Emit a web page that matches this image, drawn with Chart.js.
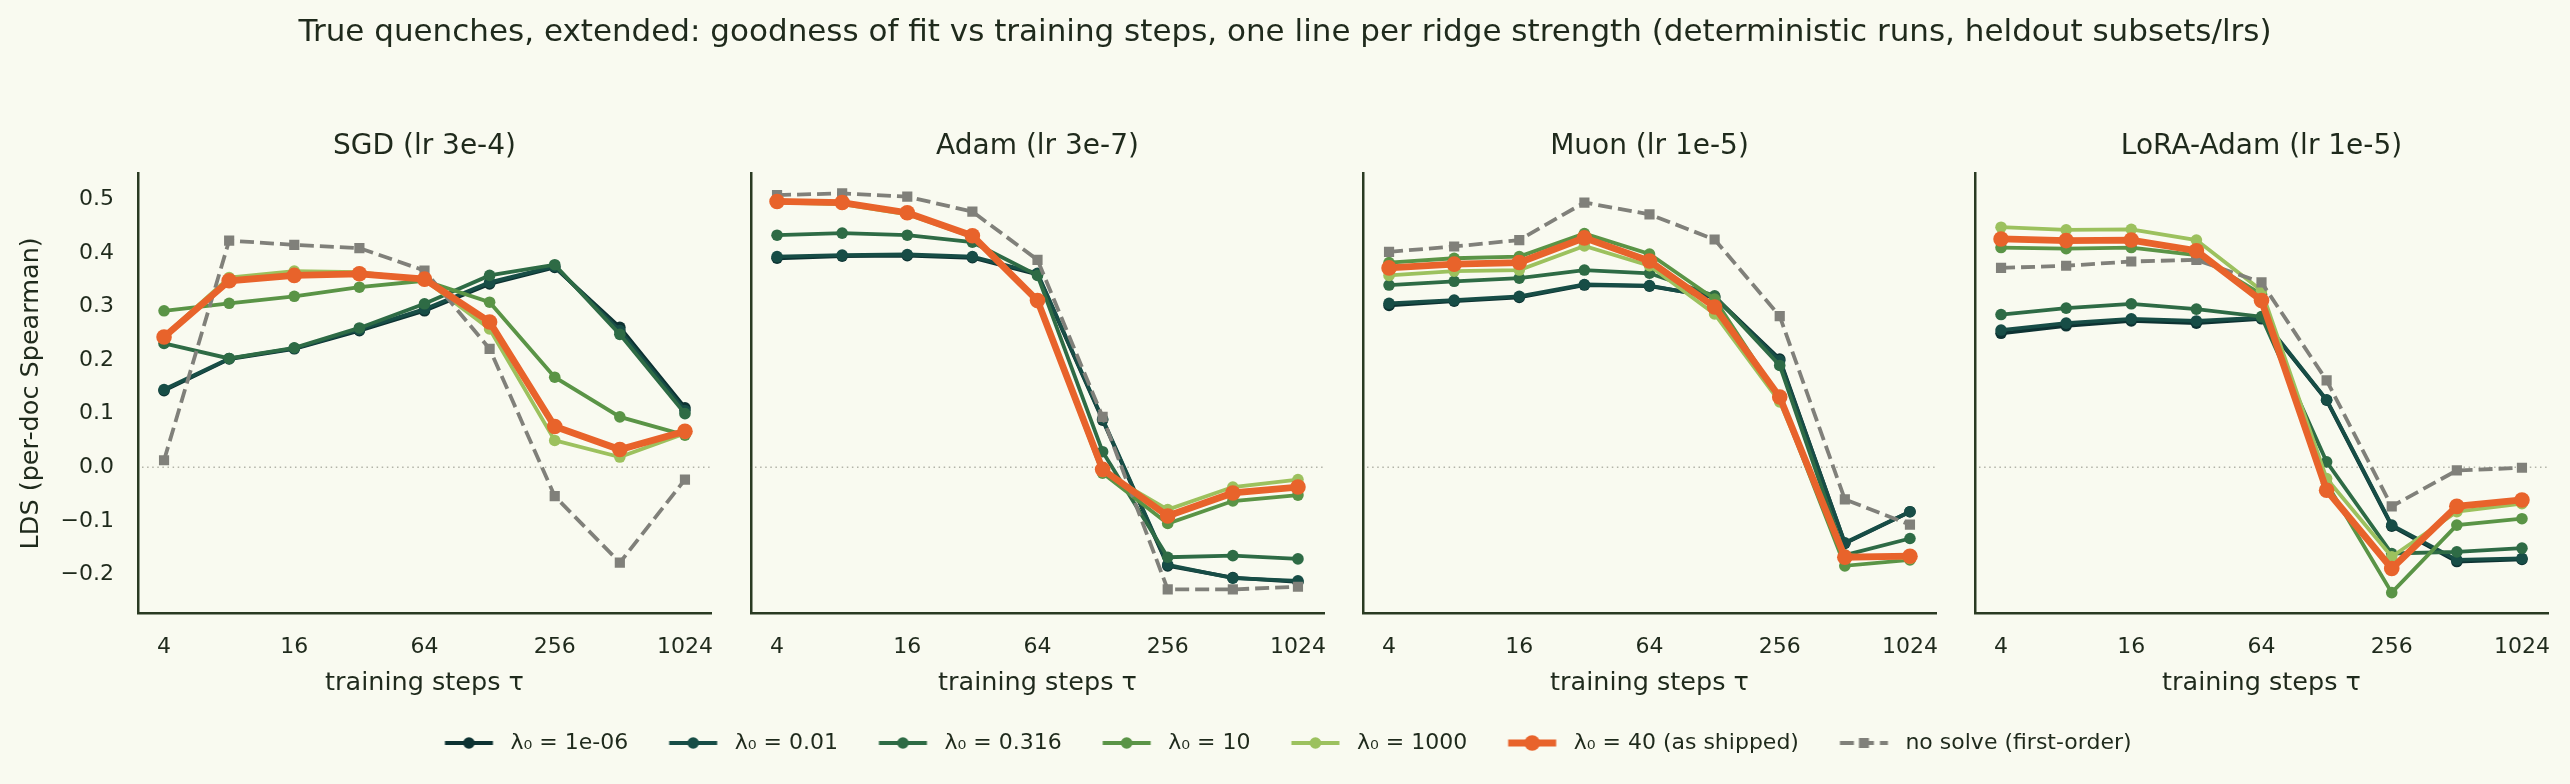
<!DOCTYPE html>
<html>
<head>
<meta charset="utf-8">
<script src="https://cdn.jsdelivr.net/npm/chart.js@4.4.1/dist/chart.umd.min.js"></script>
<style>
  html, body { margin: 0; padding: 0; background: #f9faf0; }
  #page { position: relative; width: 2570px; height: 784px; overflow: hidden; }
  canvas { position: absolute; }
</style>
</head>
<body>
<div id="page">
  <canvas id="frame" width="2570" height="784" style="left:0;top:0"></canvas>
  <canvas id="p0" width="751" height="603" style="left:0;top:100px"></canvas>
  <canvas id="p1" width="633" height="603" style="left:731px;top:100px"></canvas>
  <canvas id="p2" width="633" height="603" style="left:1343px;top:100px"></canvas>
  <canvas id="p3" width="633" height="603" style="left:1955px;top:100px"></canvas>
</div>
<script>
// training steps (x) and tick values
const steps = [4, 8, 16, 32, 64, 128, 256, 512, 1024];
const xTicks = [4, 16, 64, 256, 1024];
const yTicks = [-0.2, -0.1, 0, 0.1, 0.2, 0.3, 0.4, 0.5];

const seriesLabels = ['λ₀ = 1e-06', 'λ₀ = 0.01', 'λ₀ = 0.316', 'λ₀ = 10', 'λ₀ = 1000', 'λ₀ = 40 (as shipped)', 'no solve (first-order)'];
const panelTitles = ['SGD (lr 3e-4)', 'Adam (lr 3e-7)', 'Muon (lr 1e-5)', 'LoRA-Adam (lr 1e-5)'];
const suptitle = 'True quenches, extended: goodness of fit vs training steps, one line per ridge strength (deterministic runs, heldout subsets/lrs)';

// LDS per series, same order as seriesLabels
const sgdLDS = [
  [0.143, 0.202, 0.221, 0.255, 0.292, 0.342, 0.373, 0.261, 0.111],
  [0.145, 0.203, 0.222, 0.257, 0.295, 0.345, 0.375, 0.255, 0.106],
  [0.231, 0.203, 0.223, 0.260, 0.305, 0.358, 0.378, 0.248, 0.100],
  [0.292, 0.306, 0.319, 0.336, 0.348, 0.308, 0.168, 0.094, 0.060],
  [0.245, 0.354, 0.366, 0.364, 0.350, 0.258, 0.050, 0.019, 0.063],
  [0.243, 0.348, 0.358, 0.361, 0.351, 0.271, 0.076, 0.033, 0.067],
  [0.013, 0.423, 0.415, 0.409, 0.367, 0.221, -0.054, -0.178, -0.023]
];
const adamLDS = [
  [0.390, 0.394, 0.395, 0.391, 0.360, 0.088, -0.184, -0.206, -0.214],
  [0.393, 0.396, 0.397, 0.393, 0.362, 0.090, -0.182, -0.207, -0.212],
  [0.433, 0.437, 0.433, 0.420, 0.358, 0.029, -0.168, -0.165, -0.171],
  [0.495, 0.492, 0.474, 0.431, 0.311, -0.011, -0.105, -0.063, -0.052],
  [0.494, 0.491, 0.472, 0.430, 0.310, -0.008, -0.079, -0.037, -0.023],
  [0.496, 0.494, 0.475, 0.432, 0.311, -0.004, -0.091, -0.048, -0.037],
  [0.508, 0.511, 0.505, 0.477, 0.387, 0.094, -0.228, -0.228, -0.223]
];
const muonLDS = [
  [0.302, 0.310, 0.317, 0.340, 0.338, 0.318, 0.202, -0.142, -0.083],
  [0.306, 0.312, 0.319, 0.341, 0.339, 0.317, 0.199, -0.141, -0.083],
  [0.340, 0.347, 0.353, 0.368, 0.362, 0.320, 0.190, -0.164, -0.133],
  [0.382, 0.390, 0.393, 0.436, 0.398, 0.314, 0.128, -0.184, -0.173],
  [0.358, 0.366, 0.368, 0.413, 0.376, 0.286, 0.122, -0.164, -0.170],
  [0.372, 0.379, 0.382, 0.428, 0.385, 0.299, 0.131, -0.168, -0.166],
  [0.402, 0.412, 0.424, 0.494, 0.472, 0.425, 0.282, -0.060, -0.107]
];
const loraLDS = [
  [0.250, 0.264, 0.273, 0.269, 0.277, 0.125, -0.110, -0.176, -0.172],
  [0.256, 0.269, 0.277, 0.273, 0.279, 0.126, -0.108, -0.173, -0.170],
  [0.285, 0.297, 0.305, 0.295, 0.281, 0.010, -0.161, -0.158, -0.151],
  [0.410, 0.408, 0.410, 0.396, 0.323, -0.030, -0.234, -0.108, -0.096],
  [0.448, 0.443, 0.444, 0.424, 0.330, -0.021, -0.167, -0.083, -0.068],
  [0.426, 0.423, 0.424, 0.404, 0.311, -0.043, -0.189, -0.073, -0.061],
  [0.372, 0.376, 0.384, 0.387, 0.345, 0.162, -0.073, -0.006, -0.001]
];

// styling
const seriesColors = ['#0d3232', '#174d46', '#2e6b45', '#5a9446', '#9cc15e', '#e8632b', '#80807a'];
const lineWidths = [3.8, 3.8, 3.8, 3.8, 3.8, 6.8, 3.8];
const markerRadius = [5.8, 5.8, 5.8, 5.8, 5.8, 7.8, 7.2];
const drawOrder = [6, 5, 4, 3, 2, 0, 1]; // orange on top, then grey
const textColor = '#1f2a1c';
const spineColor = '#2a3a22';

Chart.defaults.font.family = '"DejaVu Sans", sans-serif';
Chart.defaults.color = textColor;

const zeroLine = {
  id: 'zeroLine',
  beforeDatasetsDraw(chart) {
    const { ctx, chartArea, scales: { y } } = chart;
    const py = y.getPixelForValue(0);
    ctx.save();
    ctx.strokeStyle = '#b2b3a8';
    ctx.lineWidth = 1.5;
    ctx.setLineDash([1.5, 3.6]);
    ctx.beginPath();
    ctx.moveTo(chartArea.left + 4, py);
    ctx.lineTo(chartArea.right, py);
    ctx.stroke();
    ctx.restore();
  }
};

function makeDatasets(series) {
  return series.map((vals, k) => ({
    label: seriesLabels[k],
    data: steps.map((s, j) => ({ x: s, y: vals[j] })),
    borderColor: seriesColors[k],
    backgroundColor: seriesColors[k],
    borderWidth: lineWidths[k],
    borderDash: k === 6 ? [14, 6] : [],
    pointStyle: k === 6 ? 'rect' : 'circle',
    pointRadius: markerRadius[k],
    pointBorderWidth: 0,
    pointBackgroundColor: seriesColors[k],
    tension: 0,
    order: drawOrder[k]
  }));
}

function panelChart(id, idx, series) {
  const first = idx === 0;
  return new Chart(document.getElementById(id), {
    type: 'line',
    data: { datasets: makeDatasets(series) },
    options: {
      responsive: false,
      animation: false,
      events: [],
      layout: { padding: { left: 0, right: 40, top: 0, bottom: 0 } },
      plugins: {
        legend: { display: false },
        tooltip: { enabled: false },
        title: {
          display: true,
          fullSize: false,
          text: panelTitles[idx],
          color: textColor,
          font: { size: 28, weight: 'normal' },
          padding: { top: 30.2, bottom: 9.8 }
        }
      },
      scales: {
        x: {
          type: 'logarithmic',
          bounds: 'data',
          min: Math.pow(2, 1.6),
          max: Math.pow(2, 10.4),
          afterBuildTicks: axis => { axis.ticks = xTicks.map(v => ({ value: v })); },
          afterFit: axis => { axis.height = 90; },
          grid: { display: false, drawTicks: false },
          border: { display: true, color: spineColor, width: 2.5 },
          ticks: {
            autoSkip: false, maxRotation: 0, padding: 21,
            color: textColor, font: { size: 22 },
            callback: v => String(v)
          },
          title: {
            display: true, text: 'training steps τ', color: textColor,
            font: { size: 25.5 }, padding: { top: 0, bottom: 4.7 }
          }
        },
        y: {
          type: 'linear',
          bounds: 'data',
          min: -0.272,
          max: 0.548,
          afterBuildTicks: axis => { axis.ticks = yTicks.map(v => ({ value: v })); },
          afterFit: axis => { axis.width = first ? 138 : 20; },
          grid: { display: false, drawTicks: false },
          border: { display: true, color: spineColor, width: 2.5 },
          ticks: {
            display: first, autoSkip: false, padding: 24,
            color: textColor, font: { size: 22 },
            callback: v => (v < 0 ? '\u2212' : '') + Math.abs(v).toFixed(1)
          },
          title: {
            display: first, text: 'LDS (per-doc Spearman)', color: textColor,
            font: { size: 25.5 }, padding: { top: 16.4, bottom: 0 }
          }
        }
      }
    },
    plugins: [zeroLine]
  });
}

// legend swatch: short line with its marker in the middle
function swatch(k) {
  const c = document.createElement('canvas');
  c.width = 61; c.height = 22;
  const g = c.getContext('2d');
  g.strokeStyle = seriesColors[k];
  g.fillStyle = seriesColors[k];
  g.lineWidth = lineWidths[k];
  if (k === 6) g.setLineDash([14, 6]);
  g.beginPath(); g.moveTo(6.5, 11); g.lineTo(54.5, 11); g.stroke();
  g.setLineDash([]);
  if (k === 6) {
    g.fillRect(30.5 - 5, 11 - 5, 10, 10);
  } else {
    g.beginPath(); g.arc(30.5, 11, markerRadius[k], 0, Math.PI * 2); g.fill();
  }
  return c;
}

new Chart(document.getElementById('frame'), {
  type: 'line',
  data: { datasets: seriesLabels.map((lab, k) => ({ label: lab, data: [], borderColor: seriesColors[k] })) },
  options: {
    responsive: false,
    animation: false,
    events: [],
    layout: { padding: { left: 0, right: 0, top: 0, bottom: 20 } },
    scales: { x: { display: false }, y: { display: false } },
    plugins: {
      tooltip: { enabled: false },
      title: {
        display: true, text: suptitle, color: textColor,
        font: { size: 31, weight: 'normal' }, padding: { top: 14.4, bottom: 0 }
      },
      legend: {
        position: 'bottom',
        labels: {
          usePointStyle: true,
          pointStyleWidth: 61,
          padding: 34.5,
          color: textColor,
          font: { size: 22 },
          generateLabels: chart => chart.data.datasets.map((ds, k) => ({
            text: ds.label,
            fillStyle: seriesColors[k],
            strokeStyle: seriesColors[k],
            lineWidth: 0,
            pointStyle: swatch(k),
            fontColor: textColor,
            hidden: false,
            datasetIndex: k
          }))
        }
      }
    }
  }
});

panelChart('p0', 0, sgdLDS);
panelChart('p1', 1, adamLDS);
panelChart('p2', 2, muonLDS);
panelChart('p3', 3, loraLDS);
</script>
</body>
</html>
